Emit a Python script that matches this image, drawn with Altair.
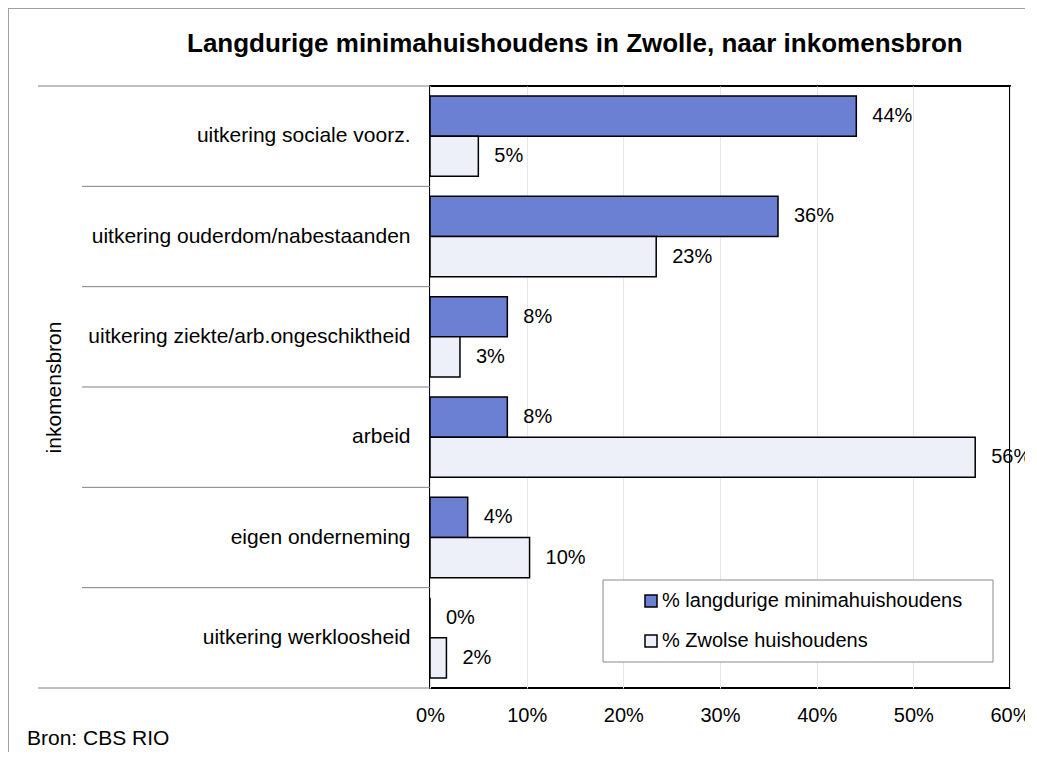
import altair as alt
import pandas as pd

# ---- data ----
categories = [
    "uitkering sociale voorz.",
    "uitkering ouderdom/nabestaanden",
    "uitkering ziekte/arb.ongeschiktheid",
    "arbeid",
    "eigen onderneming",
    "uitkering werkloosheid",
]
series = ["% langdurige minimahuishoudens", "% Zwolse huishoudens"]
minima = [44.1, 36.0, 8.0, 8.0, 3.9, 0.0]
zwolle = [5.0, 23.4, 3.1, 56.4, 10.3, 1.7]
x_ticks = [0, 10, 20, 30, 40, 50, 60]
colors = ["#6b7fd3", "#eef0f9"]
title_text = "Langdurige minimahuishoudens in Zwolle, naar inkomensbron"
y_title = "inkomensbron"
source_text = "Bron: CBS RIO"

rows = []
for c, a, b in zip(categories, minima, zwolle):
    rows.append({"cat": c, "series": series[0], "value": a})
    rows.append({"cat": c, "series": series[1], "value": b})
df = pd.DataFrame(rows)

W, H = 580, 602
PAD_R, PAD_B = 15, 64
FONT = "Liberation Sans"

y_axis = alt.Axis(
    title=y_title, labelFontSize=21, labelLimit=400, labelPadding=20,
    ticks=False, domain=False, titleFontSize=21, titleFontWeight="normal",
    titleColor="black", labelColor="black",
    labelFont=FONT, titleFont=FONT,
    titleX=-370, titleY=H / 2, titleAngle=270, titleAlign="center",
    titleBaseline="alphabetic",
)
y_scale = alt.Scale(paddingInner=0, paddingOuter=0)


def y_enc(**kw):
    return alt.Y("cat:N", sort=categories, scale=y_scale, axis=y_axis, **kw)


x_axis = alt.Axis(
    values=x_ticks, labelExpr="datum.value + '%'", title=None, grid=True,
    gridColor="#e6e6f2", gridWidth=1, domain=False, ticks=False,
    labelFontSize=20, labelPadding=17, labelFlush=False, labelOverlap=False,
    labelColor="black", labelFont=FONT,
)
x_enc = alt.X("value:Q", scale=alt.Scale(domain=[0, 60], nice=False), axis=x_axis)
yoff = alt.YOffset("series:N", sort=series,
                   scale=alt.Scale(paddingInner=0, paddingOuter=0.25))

legend = alt.Legend(
    title=None, orient="none", legendX=211, legendY=505, symbolType="square",
    symbolSize=144, symbolStrokeColor="black", symbolStrokeWidth=1.5,
    labelFontSize=20, labelOffset=1, rowPadding=20, padding=0,
    labelColor="black", labelLimit=500, labelFont=FONT,
)
color = alt.Color("series:N", sort=series,
                  scale=alt.Scale(domain=series, range=colors), legend=legend)

one = alt.Data(values=[{}])

# legend frame
legend_box = alt.Chart(one).mark_rect(fill="white", stroke="#8a8a8a", strokeWidth=1).encode(
    x=alt.value(173), x2=alt.value(563), y=alt.value(494), y2=alt.value(576)
)

bars = alt.Chart(df).mark_bar(stroke="black", strokeWidth=1.5).encode(
    x=x_enc, y=y_enc(), yOffset=yoff, color=color
)

labels = alt.Chart(df).transform_calculate(
    label="format(datum.value, '.0f') + '%'"
).mark_text(align="left", baseline="middle", dx=16, fontSize=20, font=FONT, color="black").encode(
    x=x_enc, y=y_enc(), yOffset=yoff, text="label:N"
)

sep_mid = alt.Chart(pd.DataFrame({"cat": categories[1:]})).mark_rule(
    color="#808080", strokeWidth=1
).encode(y=y_enc(bandPosition=0), x=alt.value(-348), x2=alt.value(0))

sep_top = alt.Chart(pd.DataFrame({"cat": categories[:1]})).mark_rule(
    color="#808080", strokeWidth=1
).encode(y=y_enc(bandPosition=0), x=alt.value(-392), x2=alt.value(0))

sep_bot = alt.Chart(pd.DataFrame({"cat": categories[-1:]})).mark_rule(
    color="#808080", strokeWidth=1
).encode(y=y_enc(bandPosition=1), x=alt.value(-392), x2=alt.value(0))

# outer chart-area frame (left and top edges; the others run off the page)
frame_left = alt.Chart(one).mark_rule(color="#a0a0a0", strokeWidth=1).encode(
    x=alt.value(-421.5), y=alt.value(-78), y2=alt.value(H + PAD_B + 40)
)
frame_top = alt.Chart(one).mark_rule(color="#a0a0a0", strokeWidth=1).encode(
    y=alt.value(-77.5), x=alt.value(-422), x2=alt.value(W + PAD_R + 60)
)

title = alt.Chart(one).mark_text(
    text=title_text, align="left", baseline="alphabetic", fontSize=26,
    fontWeight="bold", font=FONT, color="black"
).encode(x=alt.value(-243), y=alt.value(-34))

source = alt.Chart(one).mark_text(
    text=source_text, align="left", baseline="alphabetic", fontSize=21,
    font=FONT, color="black"
).encode(x=alt.value(-403), y=alt.value(659))

chart = alt.layer(
    legend_box, bars, labels, sep_mid, sep_top, sep_bot,
    frame_left, frame_top, title, source
).properties(
    width=W, height=H,
    autosize=alt.AutoSizeParams(type="none"),
    padding={"left": 422, "top": 78, "right": PAD_R, "bottom": PAD_B},
    background="white",
).configure(
    font=FONT
).configure_view(
    stroke="black", strokeWidth=2
)

chart.save("out.html", embed_options={"renderer": "svg", "actions": False})
